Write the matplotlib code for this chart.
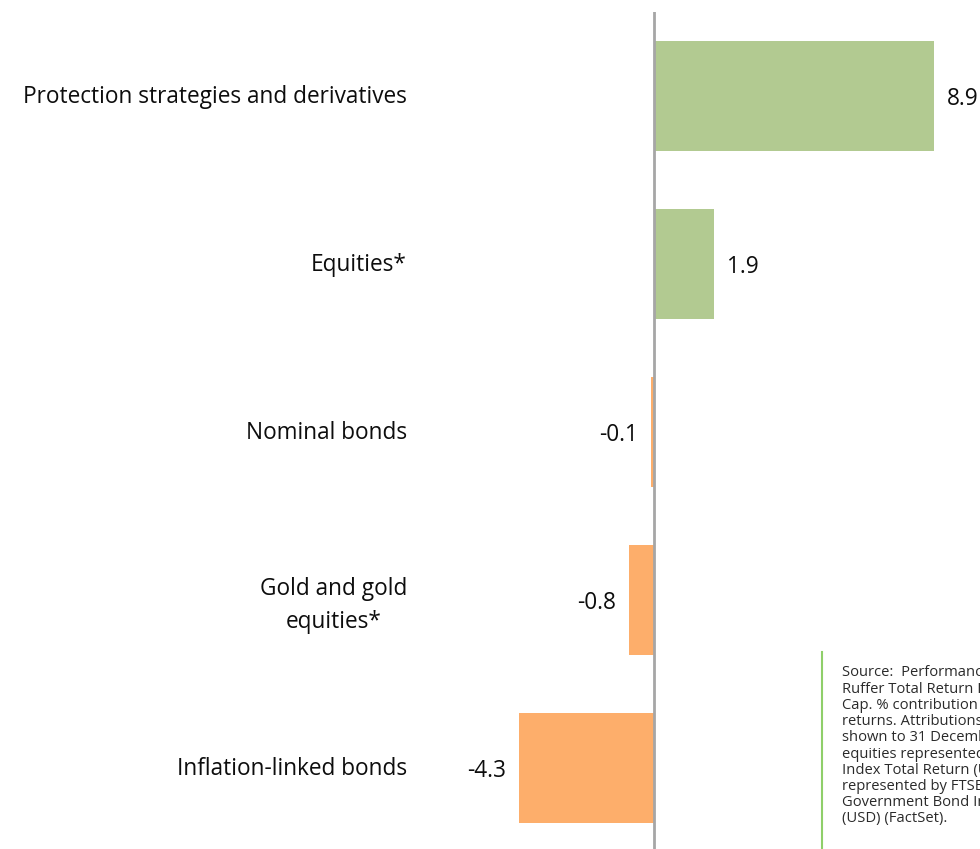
import matplotlib.pyplot as plt
import matplotlib.transforms as mtransforms

# Contribution to returns by asset class (%)
categories = [
    "Protection strategies and derivatives",
    "Equities*",
    "Nominal bonds",
    "Gold and gold\nequities*",
    "Inflation-linked bonds",
]
values = [8.9, 1.9, -0.1, -0.8, -4.3]

source_lines = [
    "Source:  Performance of the",
    "Ruffer Total Return International",
    "Cap. % contribution to fund",
    "returns. Attributions are",
    "shown to 31 December 2022,",
    "equities represented by MSCI",
    "Index Total Return (USD), bonds",
    "represented by FTSE World",
    "Government Bond Index",
    "(USD) (FactSet).",
]

GREEN = "#b2ca91"
ORANGE = "#fdae6b"
TEXT = "#0d0d0d"

plt.rcParams["font.family"] = ["Open Sans", "DejaVu Sans"]

W, H = 980, 849
fig = plt.figure(figsize=(W / 100, H / 100), dpi=100)

# axes spans x 400..980 px, y 12..849 px
ax = fig.add_axes([400 / W, 0, 580 / W, (H - 12) / H])
scale = 280 / 8.9  # px per unit
zero_px = 654
ax.set_xlim((400 - zero_px) / scale, (980 - zero_px) / scale)
spacing = 168
ax.set_ylim((849 - 96) / spacing, (12 - 96) / spacing)

ypos = list(range(len(categories)))
colors = [GREEN if v >= 0 else ORANGE for v in values]
ax.barh(ypos, values, height=0.65, color=colors, zorder=2)

ax.axvline(0, color="#a6a6a6", lw=2, zorder=3)

for sp in ax.spines.values():
    sp.set_visible(False)
ax.set_xticks([])
ax.set_yticks(ypos)
ax.set_yticklabels(categories, fontsize=16.3, color=TEXT, ha="right",
                   multialignment="center", linespacing=1.5)
ax.tick_params(axis="y", length=0)
# place the category labels at x = 407 px, nudged slightly up
offset = mtransforms.ScaledTranslation((407 - 400) / 100, 2 / 100,
                                       fig.dpi_scale_trans)
for lbl in ax.get_yticklabels():
    lbl.set_transform(ax.get_yaxis_transform(which="tick1") + offset)
    lbl.set_x(0)

for y, v in zip(ypos, values):
    pad = 13 / scale
    if v >= 0:
        ax.text(v + pad, y, f"{v:.1f}", ha="left", va="center_baseline",
                fontsize=16.3, color=TEXT)
    else:
        ax.text(v - pad, y, f"{v:.1f}", ha="right", va="center_baseline",
                fontsize=16.3, color=TEXT)

# source note box with green rule
fig.add_artist(plt.Line2D([822 / W, 822 / W], [0, 1 - 652 / H],
                          color="#8fcf6a", lw=1.5))
for i, line in enumerate(source_lines):
    fig.text(842 / W, 1 - (673 + 16.2 * i) / H, line, fontsize=10.6,
             color="#2a2a2a", va="center", ha="left")

fig.savefig("out.png", dpi=100)
